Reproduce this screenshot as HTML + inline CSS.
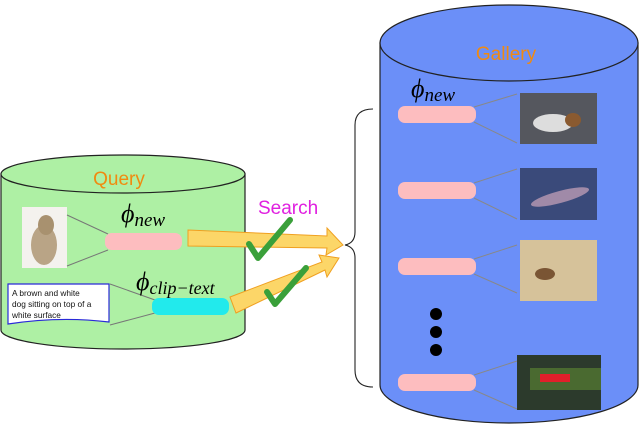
<!DOCTYPE html>
<html><head><style>body{margin:0;background:#fff}svg{display:block}</style></head><body>
<svg width="640" height="429" viewBox="0 0 640 429" xmlns="http://www.w3.org/2000/svg" font-family="Liberation Sans, sans-serif">
<!-- Query cylinder -->
<path d="M1,174 L1,330 A122,19 0 0 0 245,330 L245,174 Z" fill="#aef0a4" stroke="#222" stroke-width="1.2"/>
<ellipse cx="123" cy="174" rx="122" ry="19" fill="#aef0a4" stroke="#222" stroke-width="1.2"/>
<text x="119" y="185" font-size="19" fill="#f08a10" text-anchor="middle">Query</text>
<rect x="22" y="207" width="45" height="61" fill="#f4f2ee"/>
<ellipse cx="44" cy="245" rx="13" ry="20" fill="#b9a486"/>
<ellipse cx="46" cy="225" rx="8" ry="10" fill="#a8916f"/>
<line x1="67" y1="215" x2="108" y2="234" stroke="#777" stroke-width="1"/>
<line x1="67" y1="266" x2="108" y2="250" stroke="#777" stroke-width="1"/>
<rect x="105" y="233" width="77" height="17" rx="7" fill="#fdbdbf"/>
<text x="121" y="222" font-size="26" font-family="Liberation Serif, serif" font-style="italic">ϕ<tspan font-size="19" dy="4">new</tspan></text>
<path d="M8,284 L109,284 L109,322 Q60,316 8,324 Z" fill="#fff" stroke="#2a2ad8" stroke-width="1.2"/>
<text font-size="8.3" fill="#111"><tspan x="12" y="296">A brown and white</tspan><tspan x="12" y="307">dog sitting on top of a</tspan><tspan x="12" y="318">white surface</tspan></text>
<line x1="110" y1="284" x2="155" y2="300" stroke="#777" stroke-width="1"/>
<line x1="110" y1="325" x2="155" y2="313" stroke="#777" stroke-width="1"/>
<rect x="152" y="298" width="77" height="17" rx="7" fill="#22eaec"/>
<text x="136" y="290" font-size="26" font-family="Liberation Serif, serif" font-style="italic">ϕ<tspan font-size="18" dy="4">clip−text</tspan></text>
<!-- Gallery cylinder -->
<path d="M380,43 L380,385 A129,38 0 0 0 638,385 L638,43 Z" fill="#6b8ff8" stroke="#222" stroke-width="1.2"/>
<ellipse cx="509" cy="43" rx="129" ry="38" fill="#6b8ff8" stroke="#222" stroke-width="1.2"/>
<text x="506" y="60" font-size="19" fill="#f08a10" text-anchor="middle">Gallery</text>
<text x="411" y="97" font-size="26" font-family="Liberation Serif, serif" font-style="italic">ϕ<tspan font-size="19" dy="4">new</tspan></text>
<g stroke="#888" stroke-width="1">
<line x1="474" y1="107" x2="517" y2="94"/><line x1="474" y1="122" x2="517" y2="143"/>
<line x1="474" y1="183" x2="517" y2="169"/><line x1="474" y1="198" x2="517" y2="219"/>
<line x1="474" y1="259" x2="517" y2="245"/><line x1="474" y1="274" x2="517" y2="293"/>
<line x1="474" y1="375" x2="517" y2="361"/><line x1="474" y1="390" x2="517" y2="409"/>
</g>
<g fill="#fdbdbf">
<rect x="398" y="106" width="78" height="17" rx="7"/>
<rect x="398" y="182" width="78" height="17" rx="7"/>
<rect x="398" y="258" width="78" height="17" rx="7"/>
<rect x="398" y="374" width="78" height="17" rx="7"/>
</g>
<rect x="520" y="93" width="77" height="51" fill="#55575e"/>
<ellipse cx="553" cy="123" rx="20" ry="9" fill="#ddd"/><ellipse cx="573" cy="120" rx="8" ry="7" fill="#8a5a30"/>
<rect x="520" y="168" width="77" height="52" fill="#3a4a7a"/>
<ellipse cx="560" cy="197" rx="30" ry="6" fill="#a08aa8" transform="rotate(-15 560 197)"/>
<rect x="520" y="240" width="77" height="61" fill="#d6c29a"/>
<ellipse cx="545" cy="274" rx="10" ry="6" fill="#7a5534"/>
<rect x="517" y="355" width="84" height="55" fill="#2c3a2c"/>
<rect x="530" y="368" width="71" height="22" fill="#4a6a30"/>
<rect x="540" y="374" width="30" height="8" fill="#e0202a"/>
<g fill="#000"><circle cx="436" cy="314" r="6"/><circle cx="436" cy="332" r="6"/><circle cx="436" cy="350" r="6"/></g>
<!-- brace -->
<path d="M373,109 Q355,109 355,125 L355,232 Q355,243 345,245 Q355,247 355,258 L355,370 Q355,387 373,387" fill="none" stroke="#222" stroke-width="1.1"/>
<!-- arrows -->
<path d="M188,230 L327,236 L327,228 L343,245 L326,255 L327,248 L188,246 Z" fill="#fcd668" stroke="#f0a020" stroke-width="1"/>
<path d="M230,297 L322,262 L319,255 L339,258 L327,277 L325,270 L236,313 Z" fill="#fcd668" stroke="#f0a020" stroke-width="1"/>
<path d="M249,244 L258,258 L290,220" fill="none" stroke="#3aa03a" stroke-width="6" stroke-linecap="round" stroke-linejoin="round"/>
<path d="M267,292 L275,304 L306,268" fill="none" stroke="#3aa03a" stroke-width="6" stroke-linecap="round" stroke-linejoin="round"/>
<text x="258" y="214" font-size="19" fill="#e020e0">Search</text>
</svg>
</body></html>
